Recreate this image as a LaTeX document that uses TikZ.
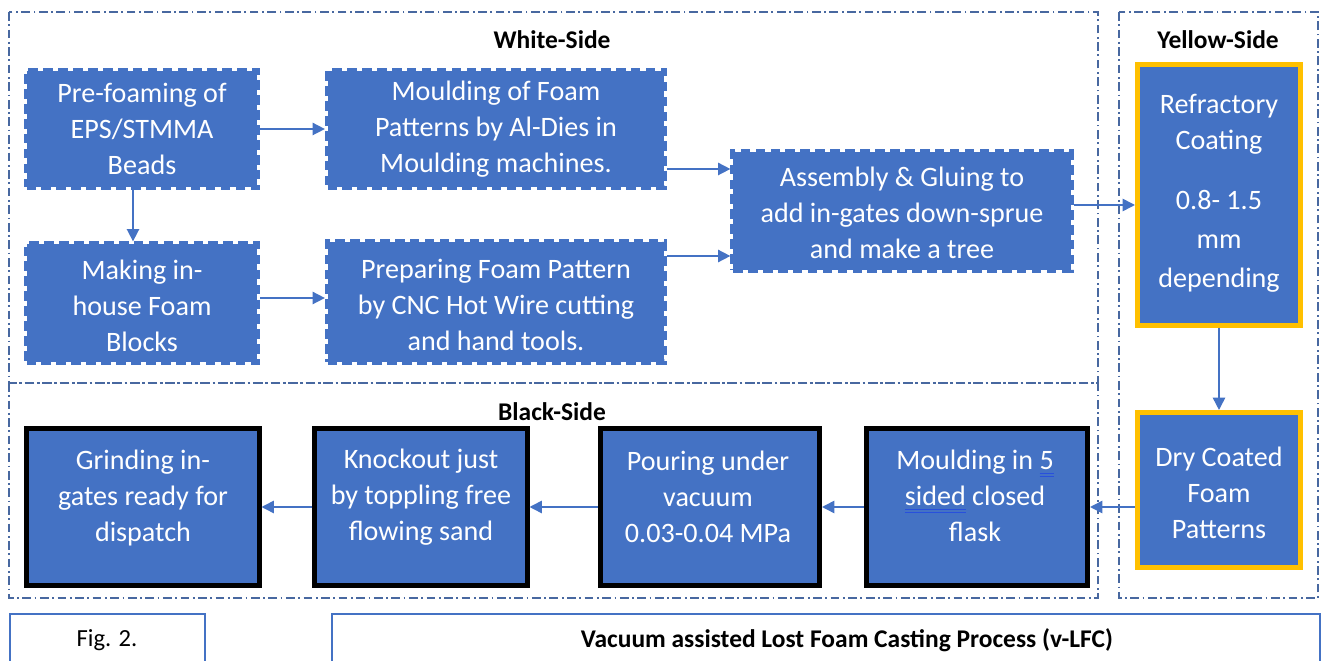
\documentclass[tikz,border=0pt]{standalone}
\usepackage{fontspec}
\usepackage{tikz}
\setmainfont{Carlito}
\usetikzlibrary{arrows.meta}
\usetikzlibrary{positioning}
\definecolor{mblue}{RGB}{68, 114, 196}
\definecolor{myellow}{RGB}{255, 192, 0}
\definecolor{mframe}{RGB}{72, 104, 160}
\definecolor{mline}{RGB}{40, 80, 220}
\tikzset{dashbox/.style = {draw = mblue, line width = 3pt,
                           dash pattern = on 5.5pt off 3pt, inner sep = 0,
                           append after command = {
                             \pgfextra{\fill [mblue] ([shift = {(1.5pt, 1.5pt)}] \tikzlastnode.south west)
                               rectangle ([shift = {(-1.5pt, -1.5pt)}] \tikzlastnode.north east);}}}}
\tikzset{yellowbox/.style = {draw = myellow, fill = mblue, line width = 2.6pt, inner sep = 0}}
\tikzset{blackbox/.style = {draw = black, fill = mblue, line width = 2.6pt, inner sep = 0}}
\tikzset{boxtext/.style = {text = white, align = center, inner sep = 0,
                           font = \fontsize{16}{20.5}\selectfont}}
\tikzset{title/.style = {font = \fontsize{14.5}{17}\selectfont\bfseries}}
\tikzset{frame/.style = {draw = mframe, line width = 0.8pt,
                         dash pattern = on 5pt off 2pt on 1pt off 2pt}}
\tikzset{flow/.style = {draw = mblue, line width = 0.9pt,
                        -{Triangle[length = 7pt, width = 7pt]}}}
\newlength\dulw
\newcommand\dul[1]{\settowidth\dulw{#1}%
  \rlap{\color{mline}\raisebox{-2.6pt}{\rule{\dulw}{0.6pt}}}%
  \rlap{\color{mline}\raisebox{-4.2pt}{\rule{\dulw}{0.6pt}}}#1}

\begin{document}
\begin{tikzpicture}[x = 0.02cm, y = -0.02cm]
    \useasboundingbox (0, 0) rectangle (1322, 661);
    \clip (0, 0) rectangle (1322, 661);

    % the three sides
    \draw [frame] (9, 12) rectangle (1098, 383);
    \draw [frame] (9, 383) rectangle (1098, 598);
    \draw [frame] (1119, 12) rectangle (1318, 598);
    \node [title] (whiteside) at (552, 40) {White-Side};
    \node [title] (yellowside) at (1218, 40) {Yellow-Side};
    \node [title] (blackside) at (552, 412) {Black-Side};

    % white side
    \node [dashbox, minimum width = 4.62cm, minimum height = 2.34cm] (prefoam) at (142, 129) {};
    \node [dashbox, minimum width = 6.74cm, minimum height = 2.34cm] (mould) at (496, 129) {};
    \node [dashbox, minimum width = 4.62cm, minimum height = 2.36cm] (blocks) at (142, 303) {};
    \node [dashbox, minimum width = 6.74cm, minimum height = 2.40cm] (prepare) at (496, 302) {};
    \node [dashbox, minimum width = 6.76cm, minimum height = 2.36cm] (assembly) at (902, 211) {};
    \node [boxtext] (prefoamtext) at (prefoam) {Pre-foaming of\\EPS/STMMA\\Beads};
    \node [boxtext] (mouldtext) at (mould) {Moulding of Foam\\Patterns by Al-Dies in\\Moulding machines.};
    \node [boxtext] (blockstext) at ([yshift = -0.05cm] blocks.center) {Making in-\\house Foam\\Blocks};
    \node [boxtext] (preparetext) at ([yshift = -0.05cm] prepare.center) {Preparing Foam Pattern\\by CNC Hot Wire cutting\\and hand tools.};
    \node [boxtext] (assemblytext) at ([yshift = -0.04cm] assembly.center) {Assembly \& Gluing to\\add in-gates down-sprue\\and make a tree};

    % yellow side
    \node [yellowbox, minimum width = 3.27cm, minimum height = 5.21cm] (coating) at (1219, 195) {};
    \node [yellowbox, minimum width = 3.27cm, minimum height = 3.11cm] (dry) at (1219, 490) {};
    \node [boxtext] (coatingtext) at ([yshift = 0.04cm] coating.center) {Refractory\\Coating\\[14pt]0.8- 1.5\\[1.5pt]mm\\[1.5pt]depending};
    \node [boxtext] (drytext) at ([yshift = -0.06cm] dry.center) {Dry Coated\\Foam\\Patterns};

    % black side
    \node [blackbox, minimum width = 4.43cm, minimum height = 3.13cm] (flask) at (977, 507) {};
    \node [blackbox, minimum width = 4.39cm, minimum height = 3.13cm] (pour) at (710, 507) {};
    \node [blackbox, minimum width = 4.25cm, minimum height = 3.13cm] (knock) at (421, 507) {};
    \node [blackbox, minimum width = 4.65cm, minimum height = 3.13cm] (grind) at (143, 507) {};
    \node [boxtext] (flasktext) at (975, 496) {Moulding in \dul{5}\\\dul{sided} closed\\flask};
    \node [boxtext] (pourtext) at (708, 497) {Pouring under\\vacuum\\0.03-0.04 MPa};
    \node [boxtext] (knocktext) at (421, 497) {Knockout just\\by toppling free\\flowing sand};
    \node [boxtext] (grindtext) at (143, 498) {Grinding in-\\gates ready for\\dispatch};

    % connectors
    \draw [flow] (prefoam) -- (mould);
    \draw [flow] ([xshift = -0.18cm] prefoam.south) -- ([xshift = -0.18cm] blocks.north);
    \draw [flow] ([yshift = 0.1cm] blocks.east) -- ([yshift = 0.1cm] blocks.east -| prepare.west);
    \draw [flow] ([yshift = -0.8cm] mould.east) -- ([yshift = -0.8cm] mould.east -| assembly.west);
    \draw [flow] ([yshift = 0.92cm] prepare.east) -- ([yshift = 0.92cm] prepare.east -| assembly.west);
    \draw [flow] ([yshift = 0.12cm] assembly.east) -- ([yshift = 0.12cm] assembly.east -| coating.west);
    \draw [flow] (coating) -- (dry);
    \draw [flow] (dry.west |- flask.east) -- (flask.east);
    \draw [flow] (flask) -- (pour);
    \draw [flow] (pour) -- (knock);
    \draw [flow] (knock) -- (grind);

    % caption boxes
    \draw [mblue, line width = 0.8pt] (10, 700) |- (205, 614) -- (205, 700);
    \draw [mblue, line width = 0.8pt] (332, 700) |- (1320, 614) -- (1320, 700);
    \node [font = \fontsize{14}{17}\selectfont] (fig) at (107, 640) {Fig. 2.};
    \node [title] (caption) at (847, 640) {Vacuum assisted Lost Foam Casting Process (v-LFC)};
\end{tikzpicture}
\end{document}
